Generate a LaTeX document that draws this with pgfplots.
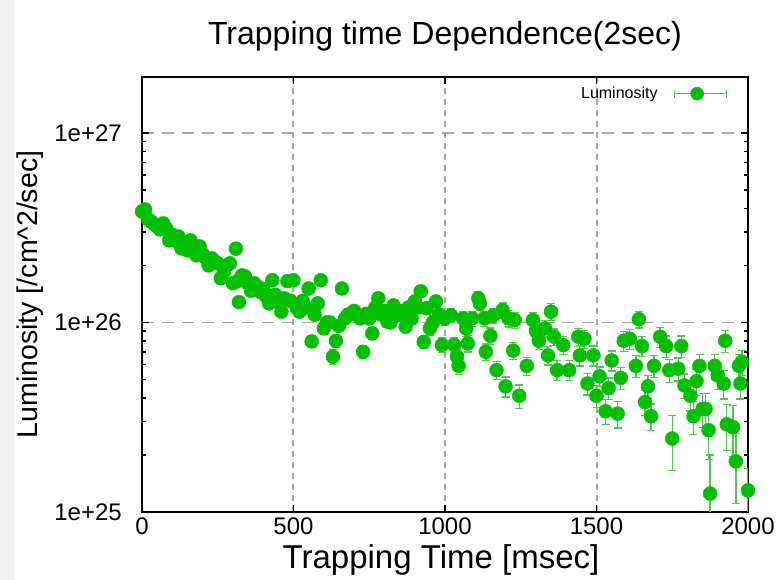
\documentclass[border=0pt]{standalone}
\usepackage{pgfplots}
\pgfplotsset{compat=1.18}
\usepackage{pgfplotstable}
\usepackage{fontspec}
\setmainfont{Liberation Sans}
\definecolor{lumgreen}{RGB}{0,192,0}
\definecolor{errgreen}{RGB}{80,200,80}
\definecolor{gridgray}{RGB}{165,165,165}

\pgfplotstableread{
x y e
0 3.85e26 0.04
10 3.95e26 0.04
20 3.5e26 0.04
30 3.41e26 0.04
40 3.3e26 0.04
50 3.2e26 0.04
60 3.1e26 0.04
70 3.33e26 0.04
80 3.13e26 0.04
90 2.71e26 0.04
100 2.9e26 0.04
110 2.7e26 0.04
120 2.84e26 0.04
130 2.46e26 0.04
140 2.6e26 0.04
150 2.4e26 0.04
160 2.71e26 0.04
170 2.5e26 0.04
180 2.26e26 0.04
190 2.52e26 0.04
200 2.3e26 0.04
210 2.2e26 0.04
220 2.0e26 0.04
230 2.18e26 0.04
240 2.1e26 0.04
250 2.05e26 0.04
260 1.71e26 0.04
270 1.85e26 0.04
280 2.0e26 0.04
290 2.05e26 0.04
300 1.61e26 0.04
310 2.45e26 0.04
315 1.65e26 0.04
320 1.28e26 0.05
330 1.77e26 0.04
340 1.75e26 0.04
350 1.6e26 0.04
360 1.47e26 0.04
370 1.61e26 0.04
380 1.55e26 0.04
390 1.45e26 0.04
400 1.5e26 0.04
410 1.37e26 0.04
420 1.26e26 0.04
430 1.67e26 0.04
440 1.4e26 0.04
450 1.3e26 0.04
460 1.14e26 0.05
470 1.34e26 0.05
480 1.65e26 0.05
490 1.3e26 0.05
500 1.67e26 0.05
510 1.2e26 0.05
520 1.14e26 0.05
530 1.3e26 0.05
540 1.2e26 0.05
550 1.51e26 0.05
560 7.94e25 0.07
570 1.1e26 0.06
580 1.26e26 0.06
590 1.67e26 0.06
600 9.3e25 0.07
610 1.0e26 0.06
620 1.0e26 0.06
630 6.6e25 0.09
640 8.0e25 0.08
650 9.6e25 0.07
660 1.51e26 0.06
670 1.05e26 0.06
680 1.1e26 0.06
690 1.11e26 0.06
700 1.15e26 0.06
710 1.1e26 0.06
720 1.05e26 0.06
730 7.0e25 0.08
740 1.11e26 0.06
750 1.05e26 0.06
760 8.75e25 0.07
770 1.2e26 0.06
780 1.34e26 0.06
790 1.1e26 0.06
800 1.15e26 0.06
810 1.01e26 0.07
820 1.0e26 0.07
830 1.23e26 0.06
840 1.09e26 0.07
850 1.1e26 0.07
860 1.15e26 0.07
870 9.5e25 0.07
880 1.2e26 0.07
890 1.05e26 0.07
900 1.29e26 0.07
910 1.2e26 0.07
920 1.46e26 0.07
930 7.9e25 0.08
940 1.19e26 0.07
950 9.3e25 0.08
960 1.0e26 0.08
970 1.29e26 0.07
980 1.1e26 0.08
990 7.6e25 0.09
1000 1.05e26 0.08
1020 1.09e26 0.08
1030 7.6e25 0.09
1040 6.6e25 0.1
1045 5.9e25 0.1
1060 1.05e26 0.08
1070 9.3e25 0.09
1075 7.75e25 0.1
1090 1.05e26 0.09
1110 1.34e26 0.08
1115 1.26e26 0.08
1130 1.05e26 0.09
1135 7.0e25 0.1
1150 8.5e25 0.1
1160 1.09e26 0.09
1170 5.6e25 0.11
1190 1.16e26 0.09
1200 4.6e25 0.12
1210 1.05e26 0.1
1225 7.1e25 0.1
1230 1.03e26 0.1
1245 4.1e25 0.14
1270 5.9e25 0.11
1290 1.03e26 0.1
1300 9.0e25 0.1
1310 8.0e25 0.1
1330 9.3e25 0.1
1340 6.7e25 0.11
1350 1.14e26 0.1
1360 8.4e25 0.1
1370 5.6e25 0.12
1390 7.6e25 0.11
1410 5.6e25 0.12
1440 8.4e25 0.11
1445 6.7e25 0.12
1460 8.2e25 0.11
1470 4.76e25 0.13
1490 6.7e25 0.12
1500 4.1e25 0.13
1510 5.2e25 0.12
1530 3.4e25 0.15
1540 4.5e25 0.13
1550 6.3e25 0.12
1570 3.3e25 0.16
1580 5.1e25 0.13
1590 8.0e25 0.12
1610 8.2e25 0.12
1630 5.9e25 0.13
1640 1.04e26 0.1
1650 7.5e25 0.12
1660 3.8e25 0.15
1670 4.6e25 0.14
1680 3.2e25 0.16
1690 5.9e25 0.13
1710 8.4e25 0.12
1730 7.5e25 0.13
1740 5.6e25 0.14
1750 2.44e25 0.32
1770 5.7e25 0.14
1780 7.5e25 0.13
1790 4.65e25 0.15
1810 4.1e25 0.17
1820 3.2e25 0.2
1830 4.9e25 0.16
1840 5.9e25 0.15
1850 3.5e25 0.2
1860 3.5e25 0.2
1870 2.7e25 0.3
1875 1.25e25 0.6
1890 5.9e25 0.15
1900 5.25e25 0.16
1920 4.76e25 0.17
1925 8.0e25 0.13
1930 2.9e25 0.27
1950 2.8e25 0.3
1960 1.85e25 0.4
1970 5.9e25 0.15
1975 4.76e25 0.17
1980 6.2e25 0.15
2000 1.3e25 0.3
}\lumdata

\begin{document}
\begin{tikzpicture}
\path[use as bounding box] (-142pt,-68pt) rectangle (635pt,512pt);
\fill[black!6] (-142pt,-68pt) rectangle (-128pt,512pt);
\begin{axis}[
  scale only axis, width=606pt, height=435pt,
  xmin=0, xmax=2000,
  ymode=log, ymin=1e25, ymax=1.975e27,
  xtick={0,500,1000,1500,2000},
  xticklabels={0,500,1000,1500,2000},
  ytick={1e25,1e26,1e27},
  yticklabels={1e+25,1e+26,1e+27},
  minor ytick={2e25,3e25,4e25,5e25,6e25,7e25,8e25,9e25,2e26,3e26,4e26,5e26,6e26,7e26,8e26,9e26},
  minor xtick={},
  tick align=inside,
  major tick length=7pt, minor tick length=4pt,
  every tick/.style={black, line width=1.5pt},
  axis line style={black, line width=2.5pt},
  grid=major,
  x grid style={gridgray, line width=2pt, dash pattern=on 6pt off 5pt},
  y grid style={gridgray, line width=1.2pt, dash pattern=on 12pt off 8pt},
  tick label style={font=\fontsize{24}{28}\selectfont},
  xticklabel style={yshift=-2pt},
  yticklabel style={inner sep=0pt, anchor=east, xshift=-20pt},
  title={Trapping time Dependence(2sec)},
  title style={font=\fontsize{32}{36}\selectfont, at={(rel axis cs:0.5,1)}, anchor=base, yshift=26pt},
  xlabel={Trapping Time [msec]},
  xlabel style={font=\fontsize{33}{36}\selectfont, at={(rel axis cs:0.5,0)}, anchor=base, xshift=-4pt, yshift=-57pt},
  ylabel={Luminosity [/cm\textasciicircum 2/sec]},
  every axis y label/.style={at={(rel axis cs:0,0.5)}, anchor=center, xshift=-112pt, rotate=90, font=\fontsize{28.5}{32}\selectfont},
  legend style={at={(rel axis cs:1,1)}, anchor=north east, xshift=-18pt, yshift=-6pt,
    draw=none, fill=none, font=\fontsize{16}{18}\selectfont, column sep=14pt},
  legend plot pos=right,
]
\addplot[only marks, mark=*, mark size=7pt, color=lumgreen,
  legend image code/.code={
    \draw[errgreen, line width=1.2pt] (0pt,0pt) -- (52pt,0pt);
    \draw[errgreen, line width=1.2pt] (0pt,-4pt) -- (0pt,4pt);
    \draw[errgreen, line width=1.2pt] (52pt,-4pt) -- (52pt,4pt);
    \fill[lumgreen] (23pt,0pt) circle (6.5pt);
  },
  error bars/.cd, y dir=both, y explicit relative,
  error bar style={errgreen, line width=1.3pt},
  error mark options={errgreen, rotate=90, mark size=4pt, line width=1.3pt}]
  table[x=x, y=y, y error=e] {\lumdata};
\legend{Luminosity}
\end{axis}
\end{tikzpicture}
\end{document}
